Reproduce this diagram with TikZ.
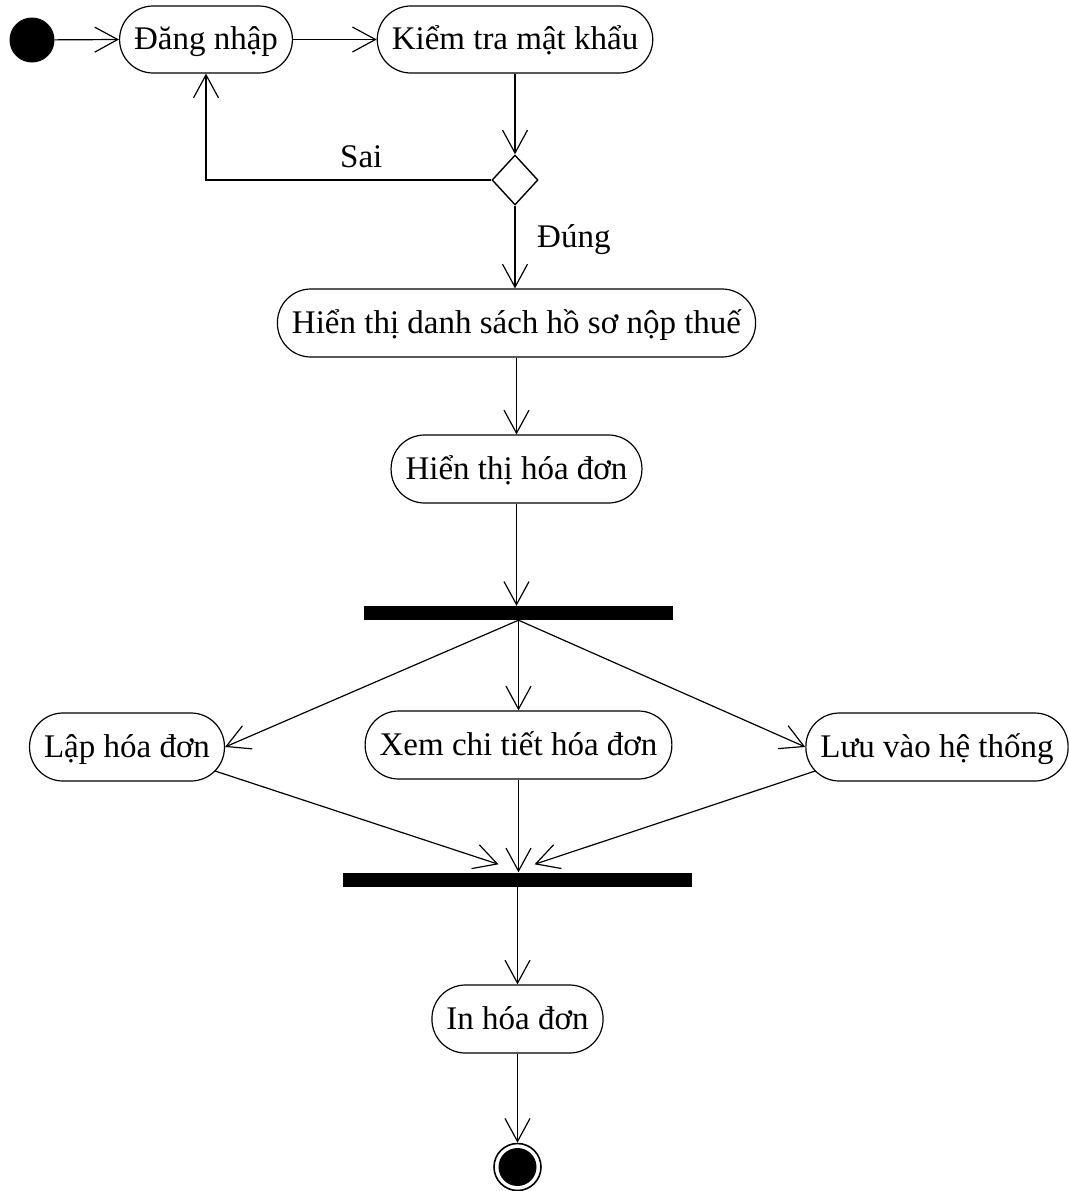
\documentclass[tikz,border=0pt]{standalone}
\usepackage{fontspec}
\setmainfont{Liberation Serif}
\usetikzlibrary{arrows.meta,shapes.geometric,calc}
\begin{document}
\begin{tikzpicture}[x=1pt,y=-1pt,
  txt/.style={font=\fontsize{33}{40}\selectfont},
  act/.style={txt, draw, line width=1.2pt, rounded corners=33.5pt,
    minimum height=68pt, inner xsep=14.5pt, inner ysep=0pt,
    text height=28pt, text depth=8pt},
  flow/.style={line width=1.2pt,
    -{Straight Barb[length=23pt,width=25pt,line width=1.2pt]}},
  bar/.style={fill=black, inner sep=0pt, minimum height=14pt},
  lbl/.style={txt, inner sep=0pt, anchor=base west},
]
\useasboundingbox (0,0) rectangle (1068,1191);

% initial node and login
\node[circle, fill=black, minimum size=45pt, inner sep=0pt] (start) at (32,40) {};
\node[act, minimum height=67pt] (dang) at (206,39.5) {Đăng nhập};
\node[act, minimum height=67pt] (kiem) at (515,39.5) {Kiểm tra mật khẩu};
\node[diamond, draw, line width=1.4pt, minimum width=46pt, minimum height=50pt,
  inner sep=0pt] (dia) at (515,180) {};

% main column
\node[act] (ds) at (516.5,323) {Hiển thị danh sách hồ sơ nộp thuế};
\node[act] (hd) at (516.5,469) {Hiển thị hóa đơn};
\node[bar, minimum width=309pt] (fork) at (518.5,613) {};
\node[act] (lap) at (127,747) {Lập hóa đơn};
\node[act] (xem) at (518.5,745) {Xem chi tiết hóa đơn};
\node[act] (luu) at (937,747) {Lưu vào hệ thống};
\node[bar, minimum width=349pt] (join) at (517.5,879.5) {};
\node[act] (in) at (517.5,1019) {In hóa đơn};

% final node
\node[circle, draw, line width=1.6pt, minimum size=47pt, inner sep=0pt] (end) at (517.5,1167) {};
\fill (end.center) circle (19pt);

% guard labels
\node[lbl] (sai) at (340,167) {Sai};
\node[lbl] (dung) at (537,247) {Đúng};

% transitions
\draw[flow] (start) -- (dang.west);
\draw[flow] (dang) -- (kiem);
\draw[flow] (kiem.south) -- (dia.north);
\draw[flow] (dia.west) -| (dang.south);
\draw[flow] (dia.south) -- (dia.south |- ds.north);
\draw[flow] (ds.south -| hd.north) -- (hd.north);
\draw[flow] (hd.south) -- (hd.south |- fork.north);
\draw[flow] (fork.south -| xem.north) -- (lap.east);
\draw[flow] (fork.south -| xem.north) -- (xem.north);
\draw[flow] (fork.south -| xem.north) -- (luu.west);
\draw[flow] ($(lap.east)+(-10,24)$) -- ($(join.north)+(-19,-8)$);
\draw[flow] (xem.south) -- (xem.south |- join.north);
\draw[flow] ($(luu.west)+(10,24)$) -- ($(join.north)+(17,-8)$);
\draw[flow] (join.south) -- (join.south |- in.north);
\draw[flow] (in.south) -- (end.north);
\end{tikzpicture}
\end{document}
